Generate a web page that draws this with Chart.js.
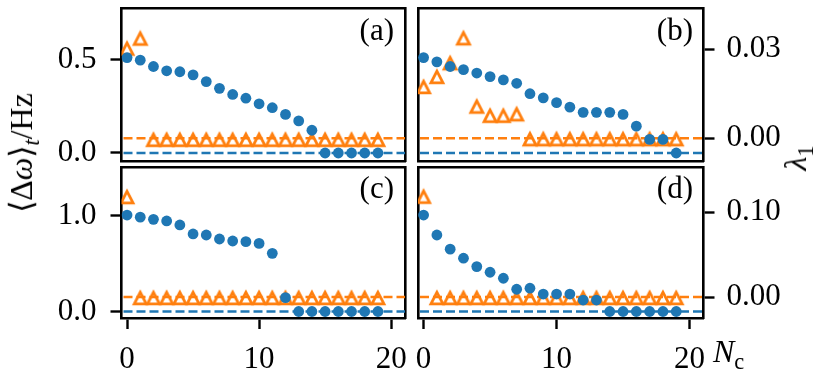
<!DOCTYPE html>
<html><head><meta charset="utf-8">
<script src="https://cdn.jsdelivr.net/npm/chart.js@4"></script>
<style>
html,body{margin:0;padding:0;background:#fff;}
#wrap{position:relative;width:831px;height:374px;overflow:hidden;font-family:'Liberation Serif',serif;color:#000;}
canvas{position:absolute;left:0;top:0;}
.lbl{position:absolute;white-space:nowrap;line-height:1;font-size:31px;font-family:'Liberation Serif',serif;}
.rot{transform:translate(-50%,-50%) rotate(-90deg);}
.sub{font-size:70%;position:relative;top:0.3em;}
</style></head><body>
<div id="wrap">
<canvas id="ca" width="831" height="374"></canvas>
<canvas id="cb" width="831" height="374"></canvas>
<canvas id="cc" width="831" height="374"></canvas>
<canvas id="cd" width="831" height="374"></canvas>
<div class="lbl" style="right:437px;top:14px;">(a)</div>
<div class="lbl" style="right:138px;top:14px;">(b)</div>
<div class="lbl" style="right:437px;top:172px;">(c)</div>
<div class="lbl" style="right:138px;top:172px;">(d)</div>
<div class="lbl rot" style="left:21px;top:153px;font-size:32px;">⟨Δ<i>ω</i>⟩<span class="sub"><i>t</i></span>/Hz</div>
<div class="lbl rot" style="left:795px;top:158px;font-size:32px;"><i>λ</i><span class="sub">1</span></div>
<div class="lbl" style="left:713px;top:335px;font-size:32px;"><i>N</i><span class="sub">c</span></div>
</div>
<script>
// categories (N_c)
const NC = [0,1,2,3,4,5,6,7,8,9,10,11,12,13,14,15,16,17,18,19];
// panel (a)
const dwA  = [0.512,0.498,0.464,0.441,0.436,0.419,0.383,0.347,0.314,0.294,0.264,0.243,0.207,0.172,0.122,0,0,0,0,0];
const lamA = [0.0302,0.0336,-0.0005,-0.0005,-0.0005,-0.0005,-0.0005,-0.0005,-0.0005,-0.0005,-0.0005,-0.0005,-0.0005,-0.0005,-0.0005,-0.0005,-0.0005,-0.0005,-0.0005,-0.0005];
// panel (b)
const dwB  = [0.512,0.489,0.464,0.447,0.429,0.410,0.392,0.374,0.318,0.296,0.270,0.246,0.218,0.218,0.218,0.207,0.144,0.073,0.073,0];
const lamB = [0.0173,0.0207,0.0253,0.0337,0.0107,0.0076,0.0076,0.0081,-0.0003,-0.0003,-0.0003,-0.0003,-0.0003,-0.0003,-0.0003,-0.0003,-0.0003,-0.0003,-0.0003,-0.0003];
// panel (c)
const dwC  = [1.010,0.988,0.965,0.948,0.906,0.812,0.801,0.759,0.738,0.731,0.713,0.609,0.145,0,0,0,0,0,0,0];
const lamC = [0.1176,-0.0012,-0.0012,-0.0012,-0.0012,-0.0012,-0.0012,-0.0012,-0.0012,-0.0012,-0.0012,-0.0012,-0.0012,-0.0012,-0.0012,-0.0012,-0.0012,-0.0012,-0.0012,-0.0012];
// panel (d)
const dwD  = [1.010,0.801,0.653,0.558,0.470,0.411,0.348,0.233,0.244,0.183,0.183,0.183,0.120,0.120,0,0,0,0,0,0];
const lamD = [0.118,-0.0012,-0.0012,-0.0012,-0.0012,-0.0012,-0.0012,-0.0012,-0.0012,-0.0012,-0.0012,-0.0012,-0.0012,-0.0012,-0.0012,-0.0012,-0.0012,-0.0012,-0.0012,-0.0012];
// tick labels
const xTickVals   = [0,10,20];
const dwTicksTop  = [0,0.5];
const dwTicksBot  = [0,1.0];
const lamTicksTop = [0,0.03];
const lamTicksBot = [0,0.10];

const BLUE='#1f77b4', ORANGE='#ff7f0e';
const W=831, H=374;
const XMIN=-0.42, XMAX=21.05;
const TL=11, TW=2.4, BW=2.6;
const AX_L=110, AX_R=100, AX_B=50;
const FONT={family:"'Liberation Serif', serif", size:31};

function makeTri(){
  const c=document.createElement('canvas'); c.width=20; c.height=20;
  const g=c.getContext('2d'); g.strokeStyle=ORANGE; g.lineWidth=2.8; g.lineJoin='miter';
  g.beginPath(); g.moveTo(10,4.2); g.lineTo(4,15.8); g.lineTo(16,15.8); g.closePath(); g.stroke();
  return c;
}
const TRI=makeTri();

function setTicks(vals){ return s=>{ s.ticks=vals.map(v=>({value:v})); }; }
function fixFit(size){ return s=>{ if(s.isHorizontal()) s.height=size; else s.width=size; s.paddingLeft=s.paddingRight=s.paddingTop=s.paddingBottom=0; }; }

const zeroLines={id:'zeroLines', beforeDatasetsDraw(chart){
  const {ctx, chartArea:a, scales}=chart;
  ctx.save(); ctx.lineWidth=2.5; ctx.setLineDash([9,4]);
  [['y2',ORANGE],['y',BLUE]].forEach(([k,c])=>{
    const yy=scales[k].getPixelForValue(0);
    ctx.strokeStyle=c; ctx.beginPath(); ctx.moveTo(a.left+2,yy); ctx.lineTo(a.right,yy); ctx.stroke();
  });
  ctx.restore();
}};

function gridOpt(show){ return {display:show, drawOnChartArea:false, drawTicks:true, tickLength:TL, tickWidth:TW, tickColor:'#000', color:'#000'}; }
function borderOpt(){ return {display:true, color:'#000', width:BW}; }

function panel(id, fr, dw, lam, o){
  new Chart(document.getElementById(id), {
    type:'scatter',
    data:{datasets:[
      {data:NC.map((x,i)=>({x:x,y:dw[i]})), xAxisID:'x', yAxisID:'y', pointRadius:5.4, pointBackgroundColor:BLUE, pointBorderWidth:0, order:0},
      {data:NC.map((x,i)=>({x:x,y:lam[i]})), xAxisID:'x', yAxisID:'y2', pointStyle:TRI, pointRadius:7, order:1}
    ]},
    options:{
      responsive:false, animation:false, devicePixelRatio:1, events:[],
      layout:{padding:{left:fr.l-AX_L, top:fr.t, right:W-fr.r-AX_R, bottom:H-fr.b-AX_B}},
      plugins:{legend:{display:false}, tooltip:{enabled:false}},
      scales:{
        x:{type:'linear', position:'bottom', min:XMIN, max:XMAX, afterBuildTicks:setTicks(xTickVals), afterFit:fixFit(AX_B),
           ticks:{display:o.bottom, font:FONT, color:'#000', padding:12, maxRotation:0, callback:v=>String(v)},
           grid:gridOpt(o.bottom), border:borderOpt()},
        x2:{type:'linear', position:'top', min:0, max:1, afterFit:fixFit(0), ticks:{display:false}, grid:{display:false}, border:borderOpt()},
        y:{type:'linear', position:'left', min:o.dwMin, max:o.dwMax, afterBuildTicks:setTicks(o.dwTicks), afterFit:fixFit(AX_L),
           ticks:{display:o.left, font:FONT, color:'#000', padding:14, callback:v=>v.toFixed(1)},
           grid:gridOpt(o.left), border:borderOpt()},
        y2:{type:'linear', position:'right', min:o.lamMin, max:o.lamMax, afterBuildTicks:setTicks(o.lamTicks), afterFit:fixFit(AX_R),
           ticks:{display:o.right, font:FONT, color:'#000', padding:12, callback:v=>v.toFixed(2)},
           grid:gridOpt(o.right), border:borderOpt()}
      }
    },
    plugins:[zeroLines]
  });
}

const topRow={t:7.5,b:161}, botRow={t:167,b:318};
const leftCol={l:121.5,r:405}, rightCol={l:418,r:703.5};
const topScales={dwMin:-0.043, dwMax:0.778, dwTicks:dwTicksTop, lamMin:-0.00763, lamMax:0.0439, lamTicks:lamTicksTop};
const botScales={dwMin:-0.068, dwMax:1.513, dwTicks:dwTicksBot, lamMin:-0.0247, lamMax:0.153, lamTicks:lamTicksBot};

panel('ca', {...leftCol,...topRow}, dwA, lamA, {...topScales, left:true, right:false, bottom:false});
panel('cb', {...rightCol,...topRow}, dwB, lamB, {...topScales, left:false, right:true, bottom:false});
panel('cc', {...leftCol,...botRow}, dwC, lamC, {...botScales, left:true, right:false, bottom:true});
panel('cd', {...rightCol,...botRow}, dwD, lamD, {...botScales, left:false, right:true, bottom:true});
</script>
</body></html>
